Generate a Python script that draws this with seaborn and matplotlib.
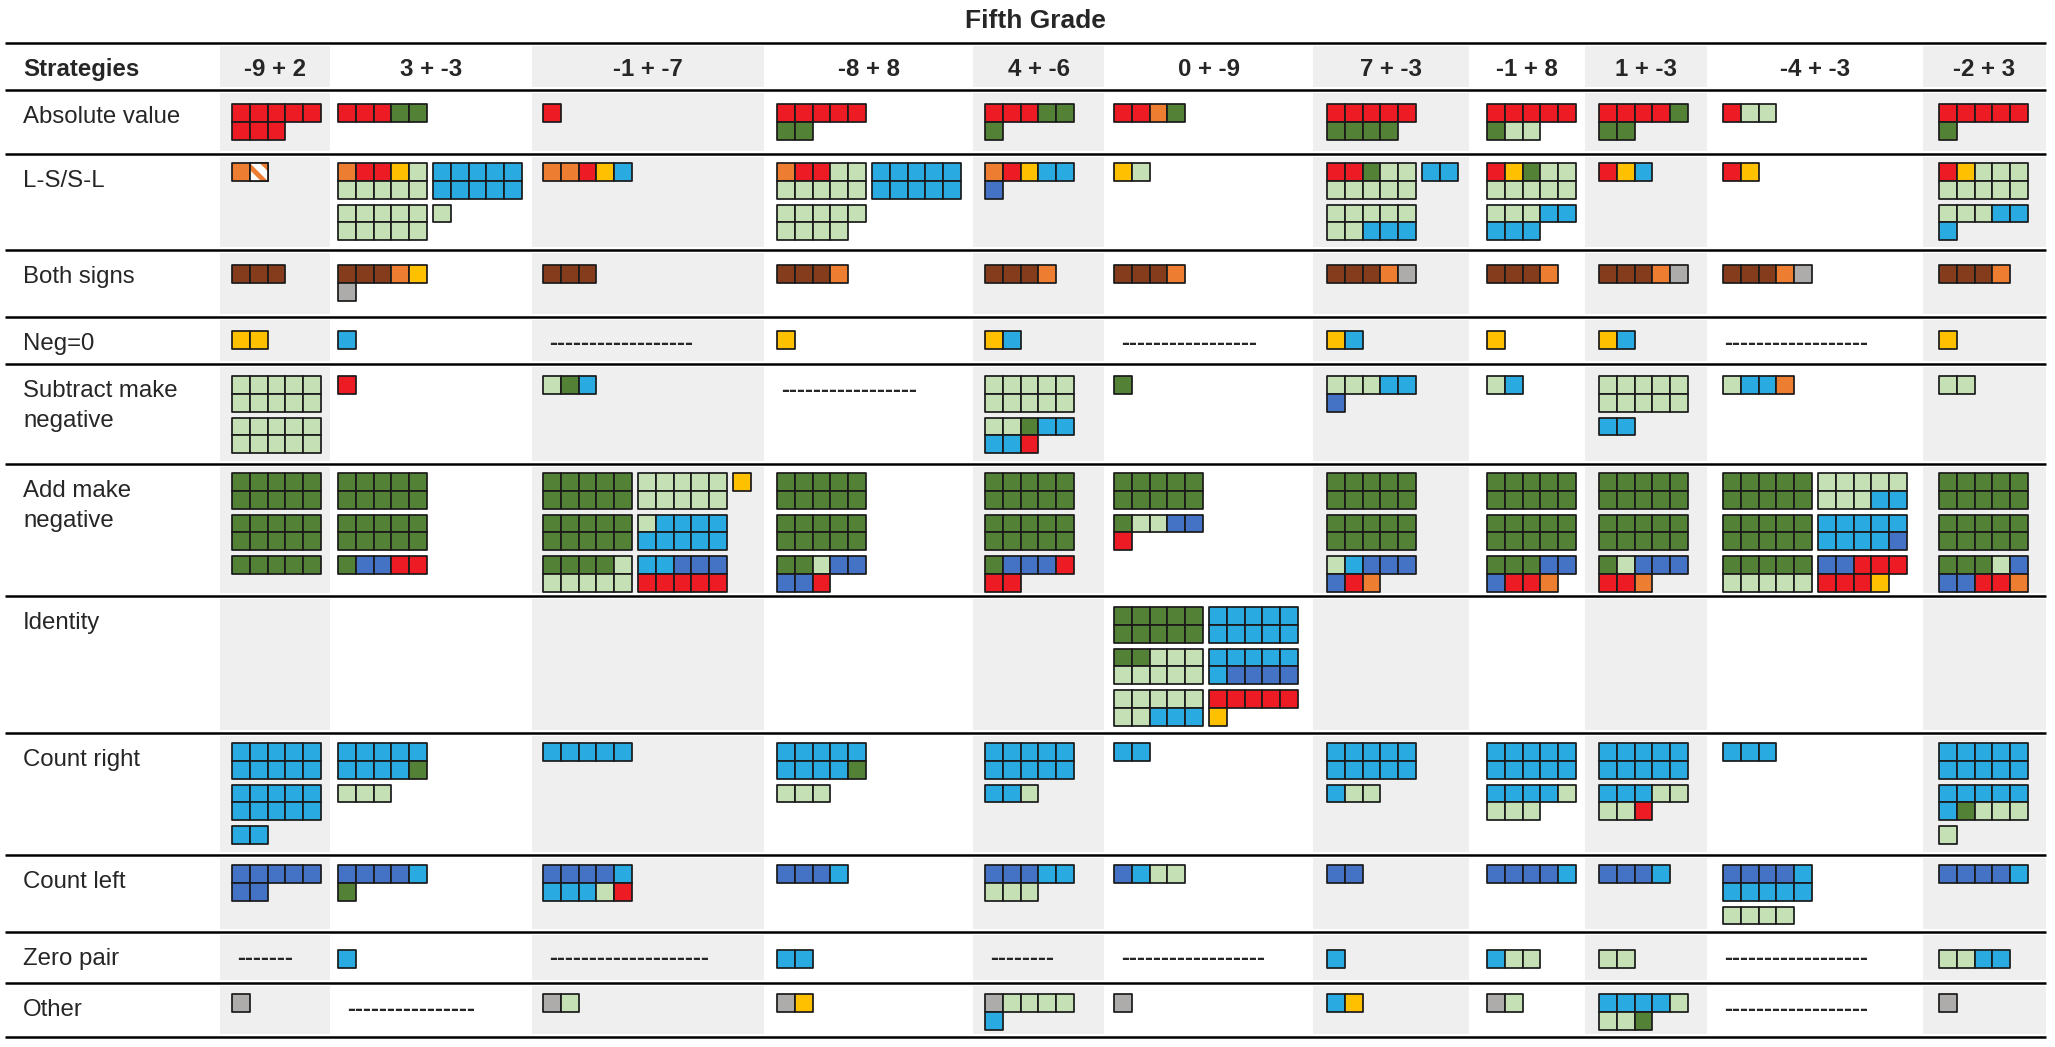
import pandas as pd
import seaborn as sns
import matplotlib.pyplot as plt
from matplotlib.patches import Rectangle

# Problems (columns) and strategies (rows)
problems = ["-9 + 2", "3 + -3", "-1 + -7", "-8 + 8", "4 + -6", "0 + -9",
            "7 + -3", "-1 + 8", "1 + -3", "-4 + -3", "-2 + 3"]
strategies = ["Absolute value", "L-S/S-L", "Both signs", "Neg=0",
              "Subtract make\nnegative", "Add make\nnegative", "Identity",
              "Count right", "Count left", "Zero pair", "Other"]

# One string per problem, one letter per student, blocks of ten split by spaces.
# A run of dashes means no student used that strategy.
# R red, G dark green, L light green, O orange, Y yellow, B light blue,
# D dark blue, N brown, X grey, H half (hatched orange)
absolute_value = ["RRRRRRRR", "RRRGG", "R", "RRRRRGG", "RRRGGG", "RROG",
                  "RRRRRGGGG", "RRRRRGLL", "RRRRGGG", "RLL", "RRRRRG"]
ls_sl = ["OH", "ORRYLLLLLL LLLLLLLLLL BBBBBBBBBB L", "OORYB",
         "ORRLLLLLLL LLLLLLLLL BBBBBBBBBB", "ORYBBD", "YL",
         "RRGLLLLLLL LLLLLLLBBB BB", "RYGLLLLLLL LLLBBBBB", "RYB", "RY",
         "RYLLLLLLLL LLLBBB"]
both_signs = ["NNN", "NNNOYX", "NNN", "NNNO", "NNNO", "NNNO", "NNNOX",
              "NNNO", "NNNOX", "NNNOX", "NNNO"]
neg_zero = ["YY", "B", "-" * 18, "Y", "YB", "-" * 17, "YB", "Y", "YB",
            "-" * 18, "Y"]
subtract_neg = ["LLLLLLLLLL LLLLLLLLLL", "R", "LGB", "-" * 17,
                "LLLLLLLLLL LLGBBBBR", "G", "LLLBBD", "LB",
                "LLLLLLLLLL BB", "LBBO", "LL"]
add_neg = ["GGGGGGGGGG GGGGGGGGGG GGGGG",
           "GGGGGGGGGG GGGGGGGGGG GDDRR",
           "GGGGGGGGGG GGGGGGGGGG GGGGLLLLLL LLLLLLLLLL LBBBBBBBBB BBDDDRRRRR Y",
           "GGGGGGGGGG GGGGGGGGGG GGLDDDDR",
           "GGGGGGGGGG GGGGGGGGGG GDDDRRR",
           "GGGGGGGGGG GLLDDR",
           "GGGGGGGGGG GGGGGGGGGG LBDDDDRO",
           "GGGGGGGGGG GGGGGGGGGG GGGDDDRRO",
           "GGGGGGGGGG GGGGGGGGGG GLDDDRRO",
           "GGGGGGGGGG GGGGGGGGGG GGGGGLLLLL LLLLLLLLBB BBBBBBBBBD DDRRRRRRY",
           "GGGGGGGGGG GGGGGGGGGG GGGLDDDRRO"]
identity = ["", "", "", "", "",
            "GGGGGGGGGG GGLLLLLLLL LLLLLLLBBB BBBBBBBBBB BBBBBBDDDD RRRRRY",
            "", "", "", "", ""]
count_right = ["BBBBBBBBBB BBBBBBBBBB BB", "BBBBBBBBBG LLL", "BBBBB",
               "BBBBBBBBBG LLL", "BBBBBBBBBB BBL", "BB", "BBBBBBBBBB BLL",
               "BBBBBBBBBB BBBBLLLL", "BBBBBBBBBB BBBLLLLR", "BBB",
               "BBBBBBBBBB BBBBBBGLLL L"]
count_left = ["DDDDDDD", "DDDDBG", "DDDDBBBBLR", "DDDB", "DDDBBLLL", "DBLL",
              "DD", "DDDDB", "DDDB", "DDDDBBBBBB LLLL", "DDDDB"]
zero_pair = ["-" * 7, "B", "-" * 20, "BB", "-" * 8, "-" * 18, "B", "BLL",
             "LL", "-" * 18, "LLBB"]
other = ["X", "-" * 16, "XL", "XY", "XLLLLB", "X", "BY", "XL", "BBBBLLLG",
         "-" * 18, "X"]

cells = [absolute_value, ls_sl, both_signs, neg_zero, subtract_neg, add_neg,
         identity, count_right, count_left, zero_pair, other]

palette = {"R": "#ED1C24", "G": "#538135", "L": "#C5E0B4", "O": "#ED7D31",
           "Y": "#FFC000", "B": "#29ABE2", "D": "#4472C4", "N": "#843C1C",
           "X": "#AEABAB", "H": "#FFFFFF"}

# layout in pixels
col_edges = [5, 220, 330, 532, 764, 973, 1104, 1313, 1469, 1585, 1707, 1923, 2046]
row_lines = [43, 90, 154, 250, 317, 364, 464, 596, 733, 855, 932, 983, 1037]
x_pad = [12, 8, 11, 13, 12, 10, 14, 18, 14, 16, 16]
y_pad = [14, 9, 15, 14, 12, 9, 11, 10, 10, 18, 11]
blocks_per_col = [1, 2, 1, 1, 2, 3, 3, 3, 2, 1, 1]
sq = 17.8
gap = 6
edge = "#1A1A1A"

sns.set_theme(style="white")
plt.rcParams["font.family"] = ["Liberation Sans", "DejaVu Sans"]
plt.rcParams["hatch.linewidth"] = 3.5

fig = plt.figure(figsize=(20.55, 10.47), dpi=100)
ax = fig.add_axes([0, 0, 1, 1])

# shaded columns
for ci in range(0, len(problems), 2):
    for r in range(len(row_lines) - 1):
        ax.add_patch(Rectangle((col_edges[ci + 1], row_lines[r] + 3),
                               col_edges[ci + 2] - col_edges[ci + 1],
                               row_lines[r + 1] - row_lines[r] - 6,
                               facecolor="#EFEFEF", edgecolor="none", zorder=0))

ax.hlines(row_lines, col_edges[0], col_edges[-1], color="black", lw=1.8, zorder=1)

# build the squares
records = []
for ri, row in enumerate(cells):
    top = row_lines[ri + 1]
    for ci, cell in enumerate(row):
        left = col_edges[ci + 1]
        if cell.startswith("-"):
            ax.text(left + 17, top + 33, cell, fontsize=17.3, fontweight="bold",
                    ha="left", va="baseline")
            continue
        for bi, block in enumerate(cell.split()):
            bc, br = divmod(bi, blocks_per_col[ri])
            bx = left + x_pad[ci] + bc * (5 * sq + gap)
            by = top + y_pad[ri] + br * (2 * sq + gap)
            for k, code in enumerate(block):
                records.append({"x": bx + (k % 5 + 0.5) * sq,
                                "y": by + (k // 5 + 0.5) * sq,
                                "code": code})
squares = pd.DataFrame(records)

side_pt = sq * 72 / 100
sns.scatterplot(data=squares, x="x", y="y", hue="code", palette=palette,
                marker="s", s=side_pt ** 2, edgecolor=edge, linewidth=1.25,
                legend=False, ax=ax, zorder=3)

# hatched half square
for _, h in squares[squares["code"] == "H"].iterrows():
    ax.add_patch(Rectangle((h.x - sq / 2, h.y - sq / 2), sq, sq, facecolor="white",
                           edgecolor="#ED7D31", hatch="\\\\", lw=0, zorder=4))
    ax.add_patch(Rectangle((h.x - sq / 2, h.y - sq / 2), sq, sq, fill=False,
                           edgecolor=edge, lw=1.25, zorder=5))

# text
ax.text(1035, 28, "Fifth Grade", fontsize=19, fontweight="bold", ha="center",
        va="baseline")
ax.text(23, 76, "Strategies", fontsize=17.3, fontweight="bold", ha="left",
        va="baseline")
for ci, p in enumerate(problems):
    ax.text((col_edges[ci + 1] + col_edges[ci + 2]) / 2, 76, p, fontsize=17.3,
            fontweight="bold", ha="center", va="baseline")
for ri, label in enumerate(strategies):
    for li, line in enumerate(label.split("\n")):
        ax.text(23, row_lines[ri + 1] + 33 + li * 29.5, line, fontsize=17.3,
                ha="left", va="baseline")

ax.set_xlim(0, 2055)
ax.set_ylim(1047, 0)
ax.axis("off")

fig.savefig("out.png", dpi=100)
